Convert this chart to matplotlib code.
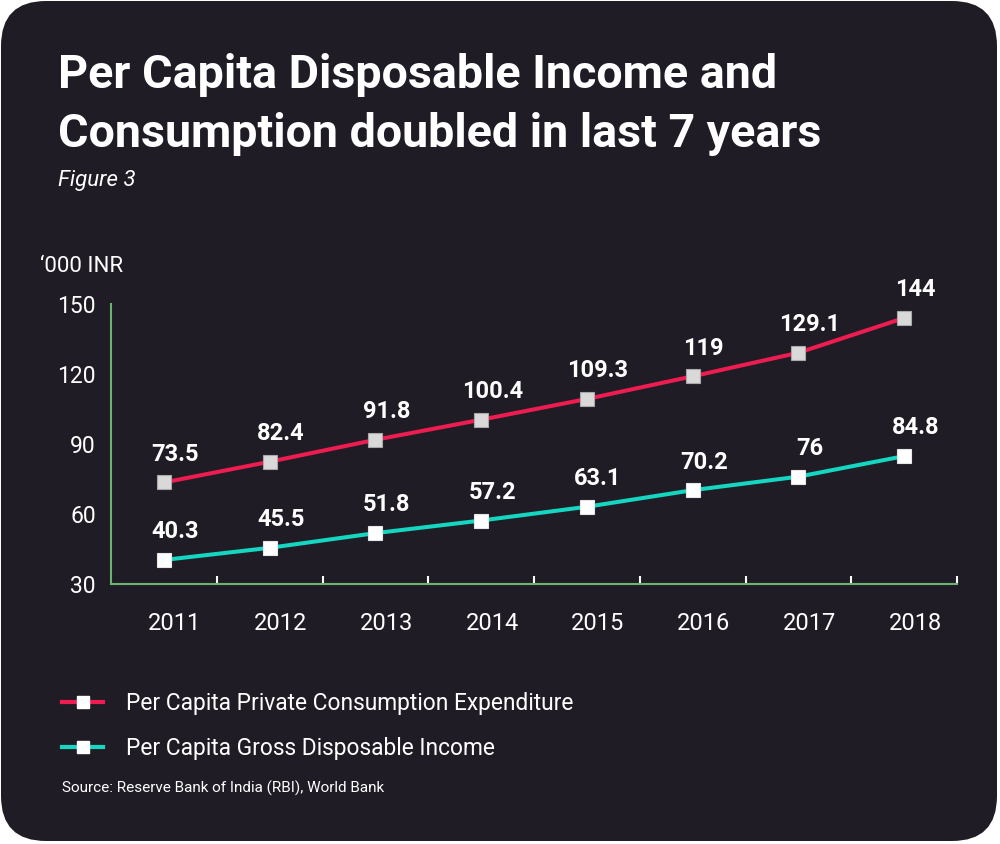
import matplotlib
matplotlib.use("Agg")
import matplotlib.pyplot as plt
from matplotlib.patches import FancyBboxPatch
from matplotlib.lines import Line2D
from matplotlib.ticker import FixedLocator
from matplotlib.transforms import ScaledTranslation

years = ["2011", "2012", "2013", "2014", "2015", "2016", "2017", "2018"]
consumption = [73.5, 82.4, 91.8, 100.4, 109.3, 119, 129.1, 144]
income = [40.3, 45.5, 51.8, 57.2, 63.1, 70.2, 76, 84.8]
consumption_labels = ["73.5", "82.4", "91.8", "100.4", "109.3", "119", "129.1", "144"]
income_labels = ["40.3", "45.5", "51.8", "57.2", "63.1", "70.2", "76", "84.8"]
yticks = [30, 60, 90, 120, 150]

plt.rcParams['font.family'] = ['Roboto', 'DejaVu Sans']

BG = "#1f1c25"
RED = "#ee1c50"
TEAL = "#14d6c1"
AXIS = "#6db36f"
WHITE = "#ffffff"

fig = plt.figure(figsize=(10, 8.44), dpi=100, facecolor="white")

# background rounded card
bg = fig.add_axes([0, 0, 1, 1])
bg.set_xlim(0, 1000)
bg.set_ylim(844, 0)
bg.axis("off")
bg.add_patch(FancyBboxPatch((1, 1), 996, 840, boxstyle="round,pad=0,rounding_size=45",
                            facecolor=BG, edgecolor="none"))

# texts
fig.text(0.058, 1 - 88 / 844, "Per Capita Disposable Income and", color=WHITE,
         fontsize=33.6, fontweight="bold", ha="left", va="baseline")
fig.text(0.058, 1 - 147 / 844, "Consumption doubled in last 7 years", color=WHITE,
         fontsize=33.6, fontweight="bold", ha="left", va="baseline")
fig.text(0.058, 1 - 186 / 844, "Figure 3", color=WHITE, fontsize=16,
         fontstyle="italic", ha="left", va="baseline")
fig.text(0.040, 1 - 272 / 844, "\u2018000 INR", color=WHITE, fontsize=16,
         ha="left", va="baseline")

ax = fig.add_axes([0.111, 1 - 584 / 844, 0.846, 280 / 844])
ax.set_facecolor("none")
x = list(range(len(years)))

ax.plot(x, consumption, color=RED, lw=2.9, marker="s", markersize=9.5,
        markerfacecolor="#d9d9d9", markeredgecolor="#a9a9a9", markeredgewidth=0.8, zorder=3)
ax.plot(x, income, color=TEAL, lw=2.9, marker="s", markersize=9.5,
        markerfacecolor=WHITE, markeredgecolor="#e6e6e6", markeredgewidth=0.8, zorder=3)

for xi, v, lab in zip(x, consumption, consumption_labels):
    ax.annotate(lab, (xi, v), xytext=(8, 12), textcoords="offset points",
                ha="center", va="bottom", color=WHITE, fontsize=17, fontweight="bold")
for xi, v, lab in zip(x, income, income_labels):
    ax.annotate(lab, (xi, v), xytext=(8, 12), textcoords="offset points",
                ha="center", va="bottom", color=WHITE, fontsize=17, fontweight="bold")

ax.set_xlim(-0.5, len(years) - 0.5)
ax.set_ylim(30, 150)
ax.set_yticks(yticks)
ax.set_yticklabels([str(t) for t in yticks])
ax.set_xticks(x)
ax.set_xticklabels(years)
ax.xaxis.set_minor_locator(FixedLocator([i + 0.5 for i in range(len(years))]))
ax.tick_params(axis="x", which="major", length=0, pad=20, labelsize=17, labelcolor=WHITE)
ax.tick_params(axis="x", which="minor", length=6, width=1.5, direction="in", color=WHITE)
ax.tick_params(axis="y", which="major", length=0, pad=11, labelsize=16.5, labelcolor=WHITE)

shift = ScaledTranslation(11 / 100, 0, fig.dpi_scale_trans)
for lbl in ax.get_xticklabels():
    lbl.set_transform(lbl.get_transform() + shift)

for s in ["top", "right"]:
    ax.spines[s].set_visible(False)
for s in ["left", "bottom"]:
    ax.spines[s].set_color(AXIS)
    ax.spines[s].set_linewidth(1.5)

# legend
handles = [
    Line2D([0], [0], color=RED, lw=3, marker="s", markersize=8,
           markerfacecolor=WHITE, markeredgecolor=WHITE),
    Line2D([0], [0], color=TEAL, lw=3, marker="s", markersize=8,
           markerfacecolor=WHITE, markeredgecolor=WHITE),
]
leg = fig.legend(handles, ["Per Capita Private Consumption Expenditure",
                           "Per Capita Gross Disposable Income"],
                 loc="upper left", bbox_to_anchor=(0.062, 1 - 692 / 844),
                 frameon=False, fontsize=16.4, labelcolor=WHITE,
                 handlelength=1.8, handletextpad=1.0, labelspacing=0.95,
                 borderaxespad=0, borderpad=0)

fig.text(0.062, 1 - 788 / 844, "Source: Reserve Bank of India (RBI), World Bank",
         color=WHITE, fontsize=11, ha="left", va="center")

fig.savefig("out.png", dpi=100, facecolor="white")
